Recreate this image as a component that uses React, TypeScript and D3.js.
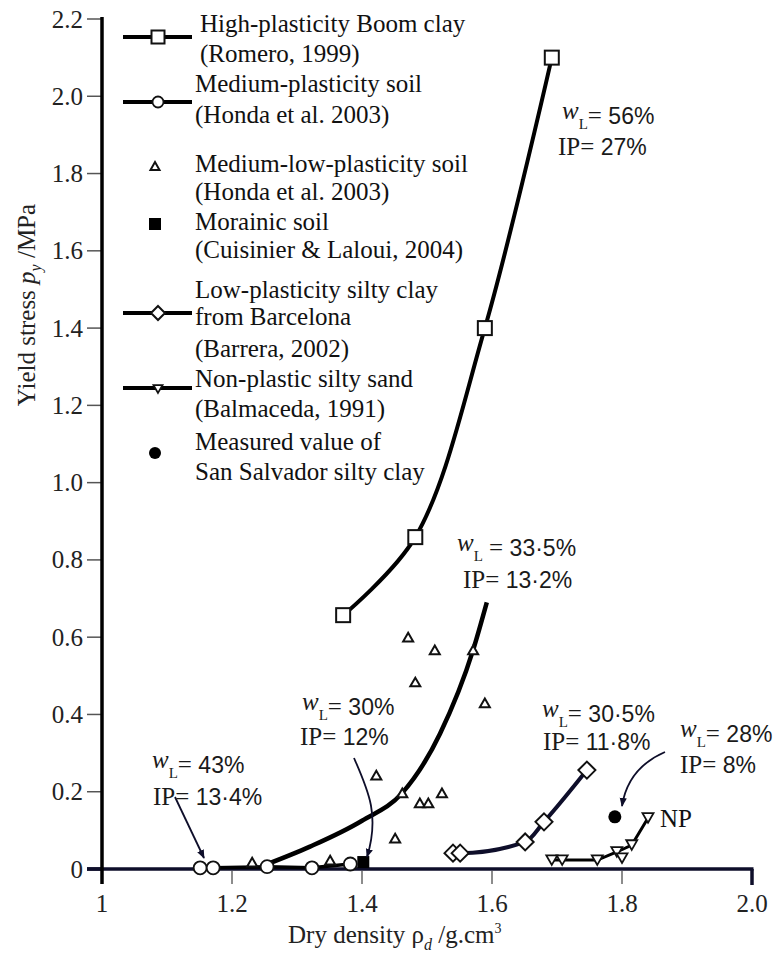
import React from "react";
import * as d3 from "d3";

const W = 777;
const H = 954;

// ---------- data ----------
const xTicks = [1, 1.2, 1.4, 1.6, 1.8, 2.0];
const xTickLabels = ["1", "1.2", "1.4", "1.6", "1.8", "2.0"];
const yTicks = [0, 0.2, 0.4, 0.6, 0.8, 1.0, 1.2, 1.4, 1.6, 1.8, 2.0, 2.2];
const yTickLabels = ["0", "0.2", "0.4", "0.6", "0.8", "1.0", "1.2", "1.4", "1.6", "1.8", "2.0", "2.2"];

// High-plasticity Boom clay (Romero, 1999)
const boomX = [1.371, 1.482, 1.589, 1.692];
const boomY = [0.657, 0.859, 1.4, 2.1];

// Medium-plasticity soil (Honda et al. 2003)
const medX = [1.151, 1.171, 1.254, 1.323, 1.382];
const medY = [0.003, 0.003, 0.006, 0.003, 0.013];

// Medium-low-plasticity soil (Honda et al. 2003) - scattered points
const mlX = [1.231, 1.351, 1.422, 1.451, 1.462, 1.489, 1.502, 1.523, 1.471, 1.512, 1.482, 1.571, 1.589];
const mlY = [0.018, 0.023, 0.243, 0.08, 0.197, 0.171, 0.171, 0.197, 0.6, 0.567, 0.484, 0.567, 0.43];
// fitted curve through medium-low-plasticity data
const mlCurveX = [1.25, 1.32, 1.4, 1.462, 1.52, 1.571, 1.592];
const mlCurveY = [0.01, 0.058, 0.125, 0.197, 0.35, 0.567, 0.69];

// Morainic soil (Cuisinier & Laloui, 2004)
const morX = [1.402];
const morY = [0.018];

// Low-plasticity silty clay from Barcelona (Barrera, 2002)
const barX = [1.54, 1.551, 1.651, 1.68, 1.746];
const barY = [0.041, 0.041, 0.07, 0.122, 0.256];

// Non-plastic silty sand (Balmaceda, 1991)
const npX = [1.692, 1.708, 1.762, 1.792, 1.815, 1.84];
const npY = [0.023, 0.023, 0.023, 0.044, 0.062, 0.132];
const npExtraX = [1.8];
const npExtraY = [0.028];

// Measured value of San Salvador silty clay
const ssX = [1.789];
const ssY = [0.135];

// ---------- scales ----------
const x = d3.scaleLinear().domain([1, 2]).range([102, 752]);
const y = d3.scaleLinear().domain([0, 2.2]).range([869, 19]);

const FONT = "'Liberation Serif', 'Times New Roman', serif";
const SANS = "'Liberation Sans', Arial, sans-serif";
const INK = "#111";
const NAVY = "#0e0e2a";

const zip = (xs: number[], ys: number[]) => xs.map((v, i) => [v, ys[i]] as [number, number]);

const lineCR = d3
  .line<[number, number]>()
  .x((d) => x(d[0]))
  .y((d) => y(d[1]))
  .curve(d3.curveCatmullRom.alpha(0.5));
const lineMono = d3
  .line<[number, number]>()
  .x((d) => x(d[0]))
  .y((d) => y(d[1]))
  .curve(d3.curveMonotoneX);
const lineLin = d3
  .line<[number, number]>()
  .x((d) => x(d[0]))
  .y((d) => y(d[1]));

// ---------- markers ----------
function Square({ cx, cy, s = 13, fill = "#fff" }: any) {
  return (
    <rect x={cx - s / 2} y={cy - s / 2} width={s} height={s} fill={fill} stroke={INK} strokeWidth={2} />
  );
}
function Circle({ cx, cy, r = 6.5, fill = "#fff" }: any) {
  return <circle cx={cx} cy={cy} r={r} fill={fill} stroke={INK} strokeWidth={1.8} />;
}
function Tri({ cx, cy, s = 10 }: any) {
  const h = s * 0.87;
  return (
    <path
      d={`M${cx},${cy - h / 2} L${cx + s / 2},${cy + h / 2} L${cx - s / 2},${cy + h / 2} Z`}
      fill="#fff"
      stroke={INK}
      strokeWidth={2}
    />
  );
}
function DownTri({ cx, cy, s = 11 }: any) {
  const h = s * 0.87;
  return (
    <path
      d={`M${cx},${cy + h / 2} L${cx + s / 2},${cy - h / 2} L${cx - s / 2},${cy - h / 2} Z`}
      fill="#fff"
      stroke={INK}
      strokeWidth={1.8}
    />
  );
}
function Diamond({ cx, cy, r = 8.5 }: any) {
  return (
    <path
      d={`M${cx},${cy - r} L${cx + r},${cy} L${cx},${cy + r} L${cx - r},${cy} Z`}
      fill="#fff"
      stroke={INK}
      strokeWidth={2}
    />
  );
}

// annotation like  wL= 56% / IP= 27%
function Annot({ x1, y1, x2, y2, wl, ip, gap = "" }: any) {
  return (
    <g fill="#1a1a1a">
      <text x={x1} y={y1} fontFamily={FONT} fontSize={25}>
        <tspan fontStyle="italic" dy={-5}>w</tspan>
        <tspan fontSize={15} dy={10}>L</tspan>
        <tspan dy={-5}>{gap}=</tspan>
        <tspan fontFamily={SANS} fontSize={23}>{" " + wl}</tspan>
      </text>
      <text x={x2} y={y2} fontFamily={FONT} fontSize={25}>
        <tspan>IP=</tspan>
        <tspan fontFamily={SANS} fontSize={23}>{" " + ip}</tspan>
      </text>
    </g>
  );
}

export default function App() {
  const legendLineX1 = 123;
  const legendLineX2 = 192;
  const lmx = 158;
  return (
    <svg width={W} height={H} viewBox={`0 0 ${W} ${H}`} style={{ position: "absolute", left: 0, top: 0, background: "#fff" }}>
      <defs>
        <marker id="arr" viewBox="0 0 10 10" refX="9" refY="5" markerWidth="9" markerHeight="9" markerUnits="userSpaceOnUse" orient="auto">
          <path d="M0,1 L10,5 L0,9 Z" fill={NAVY} />
        </marker>
      </defs>
      <rect width={W} height={H} fill="#fff" />

      {/* y ticks */}
      {yTicks.map((t, i) => (
        <g key={"yt" + i}>
          <line x1={87} x2={102} y1={y(t)} y2={y(t)} stroke={i === 0 ? NAVY : "#555"} strokeWidth={i === 0 ? 3.5 : 1.5} />
          <text x={83} y={y(t) + 8.5} textAnchor="end" fontFamily={FONT} fontSize={25} fill="#222">
            {yTickLabels[i]}
          </text>
        </g>
      ))}
      {/* x ticks */}
      {xTicks.map((t, i) => (
        <g key={"xt" + i}>
          {i > 0 && i < xTicks.length - 1 && (
            <line x1={x(t)} x2={x(t)} y1={871} y2={884} stroke="#666" strokeWidth={1.5} />
          )}
          <text x={x(t)} y={912} textAnchor="middle" fontFamily={FONT} fontSize={25} fill="#222">
            {xTickLabels[i]}
          </text>
        </g>
      ))}
      {/* axes */}
      <line x1={87} x2={x(2) + 1.5} y1={y(0)} y2={y(0)} stroke={NAVY} strokeWidth={3.5} />
      <line x1={x(2)} x2={x(2)} y1={y(0)} y2={885} stroke={NAVY} strokeWidth={3.5} />
      <line x1={x(1)} x2={x(1)} y1={17} y2={884} stroke="#000" strokeWidth={3.5} />

      {/* axis titles */}
      <text transform={`translate(35,305) rotate(-90)`} textAnchor="middle" fontFamily={FONT} fontSize={25} fill="#222">
        Yield stress <tspan fontStyle="italic">p</tspan>
        <tspan fontStyle="italic" fontSize={16} dy={6}>y</tspan>
        <tspan dy={-6}> /MPa</tspan>
      </text>
      <text x={288} y={943} fontFamily={FONT} fontSize={25} fill="#222">
        Dry density ρ<tspan fontStyle="italic" fontSize={16} dy={7}>d</tspan>
        <tspan dy={-7}> /g.cm</tspan>
        <tspan fontSize={14} dy={-10}>3</tspan>
      </text>

      {/* curves */}
      <path d={lineCR(zip(boomX, boomY)) || ""} fill="none" stroke="#000" strokeWidth={4} />
      <path d={lineLin(zip(medX, medY)) || ""} fill="none" stroke="#000" strokeWidth={3.5} />
      <path d={lineMono(zip(mlCurveX, mlCurveY)) || ""} fill="none" stroke="#000" strokeWidth={4.5} />
      <path d={lineMono(zip(barX, barY)) || ""} fill="none" stroke={NAVY} strokeWidth={4} />
      <path d={lineLin(zip(npX, npY)) || ""} fill="none" stroke="#000" strokeWidth={3} />

      {/* markers */}
      {boomX.map((v, i) => (
        <Square key={"b" + i} cx={x(v)} cy={y(boomY[i])} s={14} />
      ))}
      {medX.map((v, i) => (
        <Circle key={"m" + i} cx={x(v)} cy={y(medY[i])} r={6.5} />
      ))}
      {mlX.map((v, i) => (
        <Tri key={"t" + i} cx={x(v)} cy={y(mlY[i])} s={10} />
      ))}
      {morX.map((v, i) => (
        <rect key={"mo" + i} x={x(v) - 6} y={y(morY[i]) - 6} width={12} height={12} fill="#000" />
      ))}
      {barX.map((v, i) => (
        <Diamond key={"d" + i} cx={x(v)} cy={y(barY[i])} r={8.5} />
      ))}
      {npX.map((v, i) => (
        <DownTri key={"n" + i} cx={x(v)} cy={y(npY[i])} s={11} />
      ))}
      {npExtraX.map((v, i) => (
        <DownTri key={"ne" + i} cx={x(v)} cy={y(npExtraY[i])} s={11} />
      ))}
      {ssX.map((v, i) => (
        <circle key={"s" + i} cx={x(v)} cy={y(ssY[i])} r={6.5} fill="#000" />
      ))}

      {/* arrows */}
      <path d="M175,797 L204,858" fill="none" stroke={NAVY} strokeWidth={1.8} markerEnd="url(#arr)" />
      <path d="M354,758 C368,790 380,815 367,857" fill="none" stroke={NAVY} strokeWidth={1.8} markerEnd="url(#arr)" />
      <path d="M665,752 Q628,768 622,806" fill="none" stroke={NAVY} strokeWidth={1.8} markerEnd="url(#arr)" />

      {/* annotations */}
      <Annot x1={562} y1={124} x2={558} y2={155} wl="56%" ip="27%" />
      <Annot x1={457} y1={556} x2={463} y2={588} wl="33·5%" ip="13·2%" gap=" " />
      <Annot x1={302} y1={715} x2={300} y2={745} wl="30%" ip="12%" />
      <Annot x1={152} y1={773} x2={153} y2={805} wl="43%" ip="13·4%" />
      <Annot x1={542} y1={722} x2={543} y2={750} wl="30·5%" ip="11·8%" />
      <Annot x1={680} y1={742} x2={680} y2={773} wl="28%" ip="8%" />
      <text x={660} y={827} fontFamily={FONT} fontSize={25} fill="#111">NP</text>

      {/* legend */}
      <g fontFamily={FONT} fontSize={25} fill="#111">
        <line x1={legendLineX1} x2={legendLineX2} y1={37} y2={37} stroke="#000" strokeWidth={4} />
        <Square cx={lmx} cy={37} s={13} />
        <text x={200} y={32}>High-plasticity Boom clay</text>
        <text x={200} y={62}>(Romero, 1999)</text>

        <line x1={legendLineX1} x2={legendLineX2} y1={102} y2={102} stroke="#000" strokeWidth={4} />
        <Circle cx={lmx} cy={102} r={5.5} />
        <text x={195} y={92}>Medium-plasticity soil</text>
        <text x={195} y={123}>(Honda et al. 2003)</text>

        <Tri cx={lmx - 3} cy={166} s={9} />
        <text x={195} y={172}>Medium-low-plasticity soil</text>
        <text x={195} y={200}>(Honda et al. 2003)</text>

        <rect x={lmx - 9} y={218} width={12} height={12} fill="#000" />
        <text x={195} y={230}>Morainic soil</text>
        <text x={195} y={258}>(Cuisinier &amp; Laloui, 2004)</text>

        <line x1={legendLineX1} x2={legendLineX2} y1={313} y2={313} stroke="#000" strokeWidth={4} />
        <Diamond cx={lmx} cy={313} r={7} />
        <text x={195} y={298}>Low-plasticity silty clay</text>
        <text x={195} y={325}>from Barcelona</text>
        <text x={195} y={357}>(Barrera, 2002)</text>

        <line x1={legendLineX1} x2={legendLineX2} y1={388} y2={388} stroke="#000" strokeWidth={4} />
        <DownTri cx={lmx} cy={389} s={9} />
        <text x={195} y={387}>Non-plastic silty sand</text>
        <text x={195} y={417}>(Balmaceda, 1991)</text>

        <circle cx={lmx - 3} cy={453} r={6} fill="#000" />
        <text x={195} y={450}>Measured value of</text>
        <text x={195} y={480}>San Salvador silty clay</text>
      </g>
    </svg>
  );
}
